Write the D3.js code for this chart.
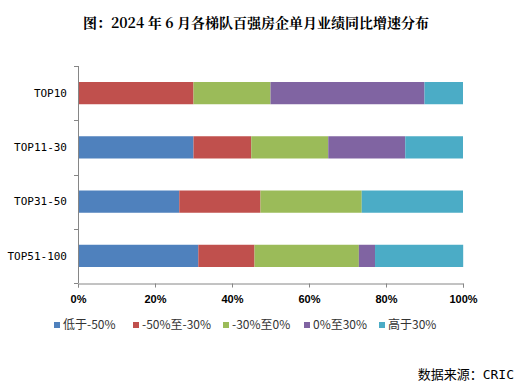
<!DOCTYPE html>
<html>
<head>
<meta charset="utf-8">
<script src="https://cdn.jsdelivr.net/npm/d3@7"></script>
<style>
  body { margin: 0; background: #fff; }
  svg { display: block; }
</style>
</head>
<body>
<svg id="chart" width="531" height="388"></svg>
<script>
const categories = ['TOP10', 'TOP11-30', 'TOP31-50', 'TOP51-100'];
const seriesNames = ['低于-50%', '-50%至-30%', '-30%至0%', '0%至30%', '高于30%'];
const below50 = [0, 30, 26.3, 31.25];
const m50to30 = [30, 15, 21.1, 14.6];
const m30to0 = [20, 20, 26.3, 27.1];
const p0to30 = [40, 20, 0, 4.2];
const above30 = [10, 15, 26.3, 22.9];
const xTicks = [0, 20, 40, 60, 80, 100];
const colors = ['#4F81BD', '#C0504D', '#9BBB59', '#8064A2', '#4BACC6'];

const allSeries = [below50, m50to30, m30to0, p0to30, above30];
const rows = categories.map((c, i) => {
    const r = { cat: c };
    seriesNames.forEach((s, j) => r[s] = allSeries[j][i]);
    return r;
});
const stacked = d3.stack().keys(seriesNames)(rows);

const svg = d3.select('#chart');
const plotLeft = 78, plotRight = 463, plotTop = 66, plotBottom = 283;

const xScale = d3.scaleLinear().domain([0, 100]).range([plotLeft, plotRight]);
const yScale = d3.scaleBand().domain(categories).range([plotTop, plotBottom])
    .paddingInner(0.59).paddingOuter(0.295);

svg.append('text')
    .attr('x', 256).attr('y', 28)
    .attr('text-anchor', 'middle')
    .style('font-family', '"Noto Serif CJK SC", "Noto Sans CJK SC", sans-serif')
    .style('font-size', '14px')
    .style('font-weight', 'bold')
    .text('图：2024 年 6 月各梯队百强房企单月业绩同比增速分布');

// bars
svg.append('g').selectAll('g')
    .data(stacked)
    .enter().append('g')
    .attr('fill', (d, i) => colors[i])
    .selectAll('rect')
    .data(d => d)
    .enter().append('rect')
    .attr('x', d => xScale(d[0]))
    .attr('y', d => yScale(d.data.cat))
    .attr('width', d => xScale(d[1]) - xScale(d[0]))
    .attr('height', yScale.bandwidth());

// y axis
const yAxis = svg.append('g');
yAxis.append('line')
    .attr('x1', plotLeft + 0.5).attr('x2', plotLeft + 0.5)
    .attr('y1', plotTop).attr('y2', plotBottom)
    .attr('stroke', '#868686');
const step = yScale.step();
d3.range(categories.length + 1).forEach(i => {
    yAxis.append('line')
        .attr('x1', plotLeft - 4).attr('x2', plotLeft)
        .attr('y1', Math.round(plotTop + i * step) + 0.5).attr('y2', Math.round(plotTop + i * step) + 0.5)
        .attr('stroke', '#868686');
});
yAxis.selectAll('text')
    .data(categories)
    .enter().append('text')
    .attr('x', 67)
    .attr('y', d => yScale(d) + yScale.bandwidth() / 2)
    .attr('dy', '0.35em')
    .attr('text-anchor', 'end')
    .style('font-family', '"DejaVu Sans Mono", monospace')
    .style('font-size', '11px')
    .attr('fill', '#000')
    .text(d => d);

// x axis
const xAxis = svg.append('g')
    .attr('transform', `translate(0,${plotBottom + 0.5})`)
    .call(d3.axisBottom(xScale).tickValues(xTicks).tickSize(4).tickPadding(8).tickFormat(d => d + '%'));
xAxis.select('.domain').attr('stroke', '#868686');
xAxis.selectAll('.tick line').attr('stroke', '#868686');
xAxis.selectAll('.tick text')
    .attr('fill', '#000')
    .style('font-family', '"Liberation Sans", Arial, sans-serif')
    .style('font-size', '11px')
    .style('font-weight', 'bold');

// legend
const legendX = [54, 133, 223, 304, 379];
const legend = svg.append('g');
seriesNames.forEach((s, i) => {
    legend.append('rect')
        .attr('x', legendX[i]).attr('y', 322)
        .attr('width', 6).attr('height', 6)
        .attr('fill', colors[i]);
    legend.append('text')
        .attr('x', legendX[i] + 9).attr('y', 325)
        .attr('dy', '0.35em')
        .style('font-family', '"Noto Sans CJK SC", sans-serif')
        .style('font-size', '12px')
        .attr('fill', '#333')
        .text(s);
});

// source
svg.append('text')
    .attr('x', 514).attr('y', 374)
    .attr('dy', '0.35em')
    .attr('text-anchor', 'end')
    .style('font-family', '"DejaVu Sans Mono", "Noto Sans CJK SC", monospace')
    .style('font-size', '13px')
    .attr('fill', '#000')
    .text('数据来源：CRIC');
</script>
</body>
</html>
